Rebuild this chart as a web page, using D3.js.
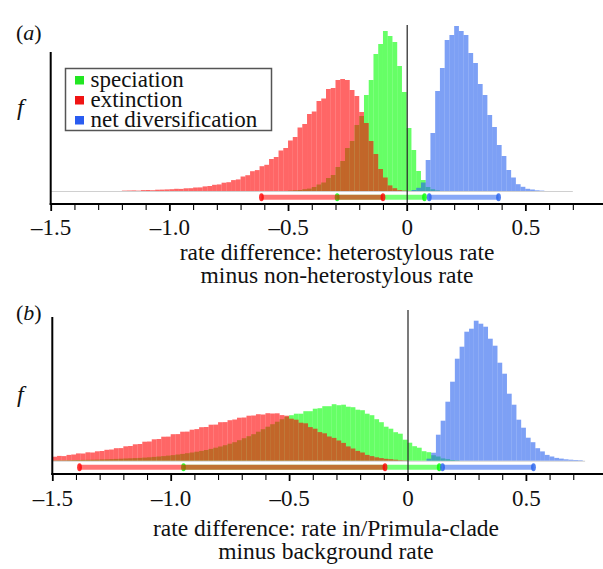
<!DOCTYPE html>
<html>
<head>
<meta charset="utf-8">
<script src="https://cdn.jsdelivr.net/npm/d3@7"></script>
<style>
    body { margin: 0; background: #fff; }
    svg { display: block; }
    svg text { font-family: 'Liberation Serif', 'Times New Roman', Times, serif; }
</style>
</head>
<body>
<div id="chart"></div>
<script>
// posterior histograms, bins of width 0.02, arbitrary frequency units
const binWidth = 0.02;

// (a) heterostylous rate minus non-heterostylous rate
const speciationAStart = -0.50;
const speciationA = [0.4, 0.7, 1.0, 1.8, 2.4, 4, 6.5, 8.5, 13, 16, 24, 30, 43, 50, 66, 75, 96, 111, 137, 147,
    160, 155, 149, 125, 99, 63, 41, 20, 11, 4, 1.8, 0.6];
const extinctionAStart = -1.20;
const extinctionA = [0.4, 0.5, 0.6, 0.4, 0.9, 1.0, 0.8, 1.3, 1.4, 1.6, 1.8, 2.2, 2.1, 2.7, 2.8, 3.5, 3.6, 4.6, 5.0, 6.2,
    6.6, 8.3, 8.8, 10.9, 11.6, 14.5, 15.8, 19.8, 20.9, 24.8, 26.2, 32, 34, 40.5, 43, 50.5, 54, 63.5, 67, 77,
    79.5, 90, 92.5, 102, 103, 111, 112, 111, 101, 95, 79, 68, 50, 37, 22, 13.5, 5.6, 2.8, 0.9, 0.4];
const netDivAStart = 0.02;
const netDivA = [1, 3.2, 8.5, 31, 58, 100, 123, 151, 156, 165, 160, 156, 138, 128, 107, 96, 76, 64, 46, 35,
    21, 13.5, 6.8, 4.2, 2.2, 1.5, 0.7, 0.4];

// (b) rate in Primula clade minus background rate
const speciationBStart = -1.50;
const speciationB = [0.3, 0.4, 0.4, 0.5, 0.6, 0.7, 0.8, 0.9, 1.0, 1.1, 1.3, 1.4, 1.6, 1.8, 2.0, 2.2, 2.4, 2.6, 2.8, 3.1,
    3.4, 3.8, 4.2, 4.6, 5.1, 5.6, 6.2, 6.8, 7.5, 8.2, 9.0, 9.8, 10.7, 11.8, 13.0, 14.2, 15.5, 17.0, 18.5, 20.5,
    22.5, 24.5, 26.5, 29, 31.5, 34, 36.5, 39, 41.5, 44, 45.5, 47, 47, 49.5, 49.5, 52, 52.5, 54.5, 54.5, 56.5,
    55.5, 56, 54, 53.5, 51, 50.5, 47, 45.5, 41.5, 38.5, 34, 32, 28.5, 27, 21, 18, 14.5, 13, 9.5, 8.5,
    5.5, 4.2, 2.3, 1.6, 0.7, 0.4];
const extinctionBStart = -1.50;
const extinctionB = [4, 4.8, 4.6, 5.8, 6.2, 7.3, 7.2, 8.4, 8.2, 9.4, 9.7, 10.9, 11.2, 12.5, 12.6, 14.4, 14.7, 16.4, 16.7, 19,
    19.2, 21.4, 21.7, 24, 24.1, 26.5, 26.6, 29, 29.1, 31, 31.6, 33.5, 33.7, 36, 36.1, 38.5, 38.6, 40.5, 41.2, 43,
    43.2, 45, 45.2, 46.5, 46.2, 47.5, 47.2, 47.4, 45.6, 45, 42, 41, 38, 37.4, 33.6, 32, 28.6, 27.4, 24.2, 22.8,
    20.2, 17.8, 14.3, 12.2, 9.8, 8.2, 5.8, 4.6, 3.4, 2.6, 1.9, 1.5, 1, 0.5, 0.3];
const netDivBStart = 0.08;
const netDivB = [2, 8, 26, 40, 59, 79, 102, 114, 129, 132, 140, 137, 134, 122, 115, 98, 87, 67, 56, 41,
    33, 23, 18.5, 12.5, 9.3, 5.8, 4.2, 2.8, 2.1, 1.4, 1, 0.7, 0.5];

// 95% intervals (lower, upper)
const hpdSpeciationA = [-0.293, 0.075];
const hpdExtinctionA = [-0.612, -0.100];
const hpdNetDivA = [0.095, 0.387];
const hpdSpeciationB = [-0.946, 0.134];
const hpdExtinctionB = [-1.385, -0.095];
const hpdNetDivB = [0.148, 0.532];

// axis
const majorTicks = [-1.5, -1.0, -0.5, 0, 0.5];
const minorTicks = [-1.4, -1.3, -1.2, -1.1, -0.9, -0.8, -0.7, -0.6, -0.4, -0.3, -0.2, -0.1,
    0.1, 0.2, 0.3, 0.4, 0.6, 0.7];
const legendLabels = ['speciation', 'extinction', 'net diversification'];

const colors = { speciation: '#00ff00', extinction: '#ff0000', netDiv: '#2661ee' };
const legendColors = ['#22e622', '#f01414', '#2a5cf0'];

const FONT = "'Liberation Serif', 'Times New Roman', Times, serif";
const W = 603, H = 569;
const svg = d3.select('#chart').append('svg')
    .attr('width', W)
    .attr('height', H);

function drawPanel(p) {
    const g = svg.append('g');
    const x = d3.scaleLinear().domain([-1.5, 0]).range([p.x0, p.xZero]);
    const y = d3.scaleLinear().domain([0, 180]).range([p.base, p.base - 180]);

    // histogram baseline
    g.append('line')
        .attr('x1', x(-1.5)).attr('x2', x(p.baseEnd))
        .attr('y1', p.base + 0.5).attr('y2', p.base + 0.5)
        .attr('stroke', '#d0d0d0')
        .attr('stroke-width', 1);

    // histograms: speciation, extinction on top, then net diversification
    p.series.forEach(s => {
        g.append('g')
            .selectAll('rect')
            .data(s.values)
            .join('rect')
            .attr('x', (d, i) => x(s.start + i * binWidth))
            .attr('width', (d, i) => x(s.start + (i + 1) * binWidth) - x(s.start + i * binWidth))
            .attr('y', d => y(d))
            .attr('height', d => y(0) - y(d))
            .attr('fill', s.color)
            .attr('fill-opacity', 0.6);
    });

    // interval bars
    p.hpd.forEach(h => {
        g.append('line')
            .attr('x1', x(h.range[0])).attr('x2', x(h.range[1]))
            .attr('y1', p.hpdY).attr('y2', p.hpdY)
            .attr('stroke', h.color)
            .attr('stroke-opacity', 0.55)
            .attr('stroke-width', 5);
        g.selectAll(null)
            .data(h.range)
            .join('ellipse')
            .attr('cx', d => x(d))
            .attr('cy', p.hpdY)
            .attr('rx', 2.4)
            .attr('ry', 4)
            .attr('fill', h.color)
            .attr('fill-opacity', 0.8);
    });

    // zero line
    g.append('line')
        .attr('x1', x(0) + 0.5).attr('x2', x(0) + 0.5)
        .attr('y1', p.zeroTop).attr('y2', p.axisY)
        .attr('stroke', '#222')
        .attr('stroke-width', 1.2);

    // y axis line
    g.append('line')
        .attr('x1', x(-1.5)).attr('x2', x(-1.5))
        .attr('y1', p.yAxisTop).attr('y2', p.axisY + 1)
        .attr('stroke', '#000')
        .attr('stroke-width', 2);

    // x axis
    const minorAxis = d3.axisBottom(x).tickValues(minorTicks).tickSize(6).tickSizeOuter(0).tickFormat('');
    g.append('g')
        .attr('transform', `translate(0,${p.axisY})`)
        .call(minorAxis)
        .call(a => a.select('.domain').remove())
        .call(a => a.selectAll('.tick line').attr('stroke', '#000').attr('stroke-width', 1.1));

    const majorAxis = d3.axisBottom(x).tickValues(majorTicks).tickSize(7).tickSizeOuter(0)
        .tickFormat(d => d === 0 ? '0' : (d < 0 ? '\u2013' : '') + Math.abs(d).toFixed(1));
    g.append('g')
        .attr('transform', `translate(0,${p.axisY})`)
        .call(majorAxis)
        .attr('font-family', FONT)
        .attr('font-size', 23)
        .call(a => a.select('.domain').remove())
        .call(a => a.selectAll('.tick line').attr('stroke', '#000').attr('stroke-width', 1.8))
        .call(a => a.selectAll('.tick text')
            .attr('y', p.tickY - p.axisY)
            .attr('dy', null)
            .attr('fill', '#111'));

    g.append('line')
        .attr('x1', x(-1.5) - 1).attr('x2', W)
        .attr('y1', p.axisY).attr('y2', p.axisY)
        .attr('stroke', '#000')
        .attr('stroke-width', 2);

    // axis title
    p.title.forEach((t, i) => {
        g.append('text')
            .attr('x', p.titleX)
            .attr('y', i === 0 ? p.title1Y : p.title2Y)
            .attr('text-anchor', 'middle')
            .attr('font-family', FONT)
            .attr('font-size', 23.5)
            .attr('fill', '#111')
            .text(t);
    });

    // panel label and f
    const lab = g.append('text')
        .attr('x', 16)
        .attr('y', p.labelY)
        .attr('font-family', FONT)
        .attr('font-size', 22)
        .attr('fill', '#111');
    lab.append('tspan').text('(');
    lab.append('tspan').attr('font-style', 'italic').text(p.label);
    lab.append('tspan').text(')');

    g.append('text')
        .attr('x', 17)
        .attr('y', p.fY)
        .attr('font-family', FONT)
        .attr('font-size', 24)
        .attr('font-style', 'italic')
        .attr('fill', '#111')
        .text('f');
}

drawPanel({
    label: 'a', x0: 50.7, xZero: 406.7, base: 191, axisY: 204, hpdY: 197.3,
    yAxisTop: 52, zeroTop: 25, tickY: 235, title1Y: 260, title2Y: 283, titleX: 337,
    labelY: 40, fY: 115, baseEnd: 0.70,
    series: [
        { start: speciationAStart, values: speciationA, color: colors.speciation },
        { start: extinctionAStart, values: extinctionA, color: colors.extinction },
        { start: netDivAStart, values: netDivA, color: colors.netDiv }
    ],
    hpd: [
        { range: hpdSpeciationA, color: colors.speciation },
        { range: hpdExtinctionA, color: colors.extinction },
        { range: hpdNetDivA, color: colors.netDiv }
    ],
    title: ['rate difference: heterostylous rate', 'minus non-heterostylous rate']
});

drawPanel({
    label: 'b', x0: 52.3, xZero: 407.5, base: 460.7, axisY: 474, hpdY: 467.3,
    yAxisTop: 317, zeroTop: 310, tickY: 506, title1Y: 536, title2Y: 559, titleX: 326,
    labelY: 320, fY: 402, baseEnd: 0.75,
    series: [
        { start: speciationBStart, values: speciationB, color: colors.speciation },
        { start: extinctionBStart, values: extinctionB, color: colors.extinction },
        { start: netDivBStart, values: netDivB, color: colors.netDiv }
    ],
    hpd: [
        { range: hpdSpeciationB, color: colors.speciation },
        { range: hpdExtinctionB, color: colors.extinction },
        { range: hpdNetDivB, color: colors.netDiv }
    ],
    title: ['rate difference: rate in/Primula-clade', 'minus background rate']
});

// legend (panel a)
const legend = svg.append('g').attr('class', 'legend');
legend.append('rect')
    .attr('x', 65.5).attr('y', 68.5)
    .attr('width', 206).attr('height', 62)
    .attr('fill', '#fff')
    .attr('stroke', '#555')
    .attr('stroke-width', 1.5);

legendLabels.forEach((label, i) => {
    const item = legend.append('g')
        .attr('transform', `translate(75, ${87 + i * 20})`);
    item.append('rect')
        .attr('x', 0).attr('y', -11)
        .attr('width', 9).attr('height', 8.5)
        .attr('fill', legendColors[i]);
    item.append('text')
        .attr('x', 15.5)
        .attr('y', 0)
        .attr('font-family', FONT)
        .attr('font-size', 23)
        .attr('fill', '#111')
        .text(label);
});
</script>
</body>
</html>
